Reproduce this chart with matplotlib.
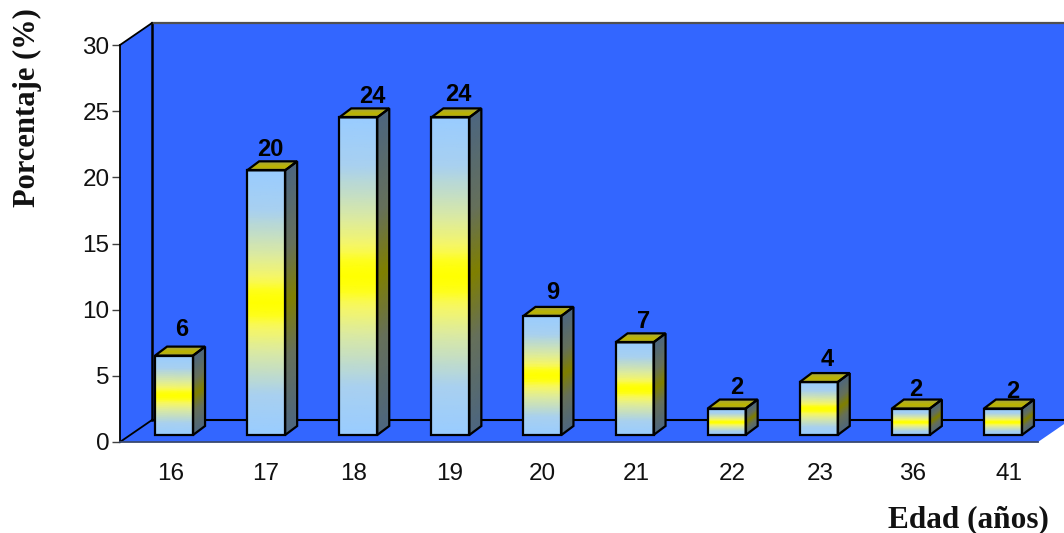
import numpy as np
import matplotlib
matplotlib.use("Agg")
import matplotlib.pyplot as plt
from matplotlib.colors import LinearSegmentedColormap
from matplotlib.patches import Polygon

ages = ["16", "17", "18", "19", "20", "21", "22", "23", "36", "41"]
values = [6, 20, 24, 24, 9, 7, 2, 4, 2, 2]
y_ticks = [0, 5, 10, 15, 20, 25, 30]

# hand placement of the labels in the reference, in pixels
tick_nudge = [5, 7, 3, 7, 8, 10, 14, 10, 10, 14]
label_nudge = [(16, 33), (12, 28), (22, 28), (16, 30), (18, 30), (17, 28), (18, 28), (16, 30), (13, 26), (18, 24)]

W, H = 1064, 533
fig = plt.figure(figsize=(W / 100, H / 100), dpi=100, facecolor="white")
L, T, B, AW = 120, 45, 442, 918
ax = fig.add_axes([L / W, 1 - B / H, AW / W, (B - T) / H])
SLOT = 92.1
XMAX = AW / SLOT
ax.set_xlim(0, XMAX)
ax.set_ylim(0, 30)
ax.set_facecolor("none")
SX, SY = SLOT, (B - T) / 30


def sh(x, y, dx, dy):
    """Shift a data position by an oblique depth given in pixels."""
    return x + dx / SX, y + dy / SY


WALL, FLOOR = "#3366FF", "#3366FF"
WD = (32, 22)
ax.add_patch(Polygon([sh(0, 0, *WD), sh(XMAX + 1, 0, *WD), sh(XMAX + 1, 30, *WD), sh(0, 30, *WD)],
                     closed=True, fc=WALL, ec="none", clip_on=False, zorder=1))
ax.add_patch(Polygon([(0, 0), (0, 30), sh(0, 30, *WD), sh(0, 0, *WD)],
                     closed=True, fc=WALL, ec="none", clip_on=False, zorder=1))
ax.add_patch(Polygon([(0, 0), (XMAX, 0), sh(XMAX, 0, *WD), sh(0, 0, *WD)],
                     closed=True, fc=FLOOR, ec="none", clip_on=False, zorder=1))
lk = dict(clip_on=False, zorder=2, solid_capstyle="projecting")
ax.plot(*zip(sh(0, 0, *WD), sh(0, 30, *WD)), color="black", lw=1.8, **lk)
ax.plot(*zip(sh(0, 30, *WD), sh(XMAX + 1, 30, *WD)), color="#505050", lw=1.6, **lk)
ax.plot(*zip(sh(0, 0, *WD), sh(XMAX + 1, 0, *WD)), color="black", lw=1.5, **lk)
ax.plot(*zip((0, 0), sh(0, 0, *WD)), color="black", lw=1.3, **lk)
ax.plot(*zip((0, 30), sh(0, 30, *WD)), color="black", lw=1.3, **lk)

BLUE = "#99CCFF"
front_cm = LinearSegmentedColormap.from_list("f", [
    (0, BLUE), (0.15, "#A8D0F0"), (0.32, "#DCEAA0"), (0.41, "#F8F860"), (0.46, "#FFFF10"), (0.5, "#FFFF00"),
    (0.54, "#FFFF10"), (0.59, "#F8F860"), (0.68, "#DCEAA0"), (0.85, "#A8D0F0"), (1, BLUE)])
side_cm = LinearSegmentedColormap.from_list("s", [
    (0, "#4D6680"), (0.3, "#66705A"), (0.5, "#808000"), (0.7, "#66705A"), (1, "#4D6680")])
top_cm = LinearSegmentedColormap.from_list("t", ["#A8A840", "#BDB500", "#A8A840"])

BW = 38 / SLOT
NEAR = (8, 7)
FAR = (20, 16)
EC = "black"


def face(corners, cm):
    # corners: bottom-left, bottom-right, top-right, top-left
    t = np.linspace(0, 1, 41)
    bl, br, tr, tl = [np.array(c) for c in corners]
    s = np.array([0, 1])
    X = np.outer(1 - t, bl[0] * (1 - s) + br[0] * s) + np.outer(t, tl[0] * (1 - s) + tr[0] * s)
    Y = np.outer(1 - t, bl[1] * (1 - s) + br[1] * s) + np.outer(t, tl[1] * (1 - s) + tr[1] * s)
    C = np.outer(t, np.ones(2))
    ax.pcolormesh(X, Y, C, cmap=cm, shading="gouraud", vmin=0, vmax=1, zorder=3, clip_on=False)
    ax.add_patch(Polygon([bl, br, tr, tl], closed=True, fc="none", ec=EC, lw=1.6,
                         joinstyle="miter", clip_on=False, zorder=4))


for i, v in enumerate(values):
    x0, x1 = i + 0.5 - BW / 2, i + 0.5 + BW / 2
    n_bl, n_br = sh(x0, 0, *NEAR), sh(x1, 0, *NEAR)
    n_tl, n_tr = sh(x0, v, *NEAR), sh(x1, v, *NEAR)
    f_br, f_tr = sh(x1, 0, *FAR), sh(x1, v, *FAR)
    f_tl = sh(x0, v, *FAR)
    face([n_br, f_br, f_tr, n_tr], side_cm)
    face([n_tl, n_tr, f_tr, f_tl], top_cm)
    face([n_bl, n_br, n_tr, n_tl], front_cm)
    ax.annotate(str(v), (i + 0.5, v), xytext=label_nudge[i], textcoords="offset pixels",
                ha="center", va="center", family="Liberation Sans", weight="bold",
                fontsize=17, color="black", zorder=6, annotation_clip=False)

for s in ["top", "right"]:
    ax.spines[s].set_visible(False)
ax.spines["left"].set_linewidth(1.3)
ax.spines["left"].set_color("black")
ax.spines["left"].set_zorder(5)
ax.spines["bottom"].set_linewidth(1.3)
ax.spines["bottom"].set_color("#3A4A70")
ax.spines["bottom"].set_zorder(5)

ax.set_yticks(y_ticks)
ax.set_xticks(np.arange(len(ages)) + 0.5 + np.array(tick_nudge) / SX)
ax.set_xticklabels(ages, family="Liberation Sans", fontsize=17.5, color="#111111")
ax.set_yticklabels([str(t) for t in y_ticks], family="Liberation Sans", fontsize=17.5, color="#111111")
ax.tick_params(axis="y", length=5.5, width=1, color="#404040", pad=2)
ax.tick_params(axis="x", length=0, pad=15)

fig.text(888 / W, 1 - 520 / H, "Edad (años)", family="Liberation Serif", weight="bold",
         fontsize=22.5, ha="left", va="center", color="#111111")
fig.text(27 / W, 1 - 108 / H, "Porcentaje (%)", family="Liberation Serif", weight="bold",
         fontsize=22, rotation=90, ha="center", va="center", color="#111111")

fig.savefig("out.png", dpi=100)
